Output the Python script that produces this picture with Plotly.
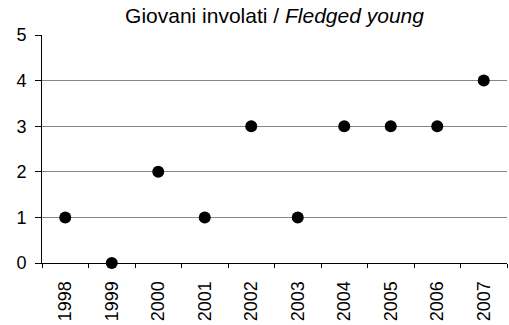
import plotly.graph_objects as go

years = ["1998", "1999", "2000", "2001", "2002", "2003", "2004", "2005", "2006", "2007"]
fledged = [1, 0, 2, 1, 3, 1, 3, 3, 3, 4]
y_ticks = [0, 1, 2, 3, 4, 5]

FONT = "Liberation Sans, Arial, sans-serif"

fig = go.Figure(go.Scatter(
    x=years, y=fledged, mode="markers",
    marker=dict(color="black", size=12),
    cliponaxis=False, showlegend=False,
))

fig.update_layout(
    width=509, height=325,
    margin=dict(l=42, r=2, t=35, b=62, pad=0),
    paper_bgcolor="white", plot_bgcolor="white",
    font=dict(family=FONT, color="black", size=18),
    title=dict(
        text="Giovani involati / <i>Fledged young</i>",
        font=dict(family=FONT, size=21, color="black"),
        x=0.5, xref="paper", xanchor="center",
        y=1 - 16 / 325, yref="container", yanchor="middle",
    ),
)

fig.update_xaxes(
    type="category", tickson="boundaries", automargin=False,
    range=[-0.5, len(years) - 0.5],
    showline=True, linecolor="black", linewidth=1,
    ticks="outside", ticklen=4, tickcolor="black",
    tickangle=-90, showgrid=False, ticklabelstandoff=10,
    tickfont=dict(size=18),
)
fig.update_yaxes(
    range=[0, 5], tickvals=y_ticks, automargin=False,
    showline=True, linecolor="black", linewidth=1,
    ticks="outside", ticklen=6, tickcolor="black",
    showgrid=True, gridcolor="#888888", gridwidth=1,
    zeroline=False, ticklabelstandoff=5,
    tickfont=dict(size=18),
)

fig.write_html(
    "out.html",
    config={"displayModeBar": False},
    post_script="document.body.style.margin='0';document.body.style.padding='0';"
                "document.body.style.overflow='hidden';",
)
